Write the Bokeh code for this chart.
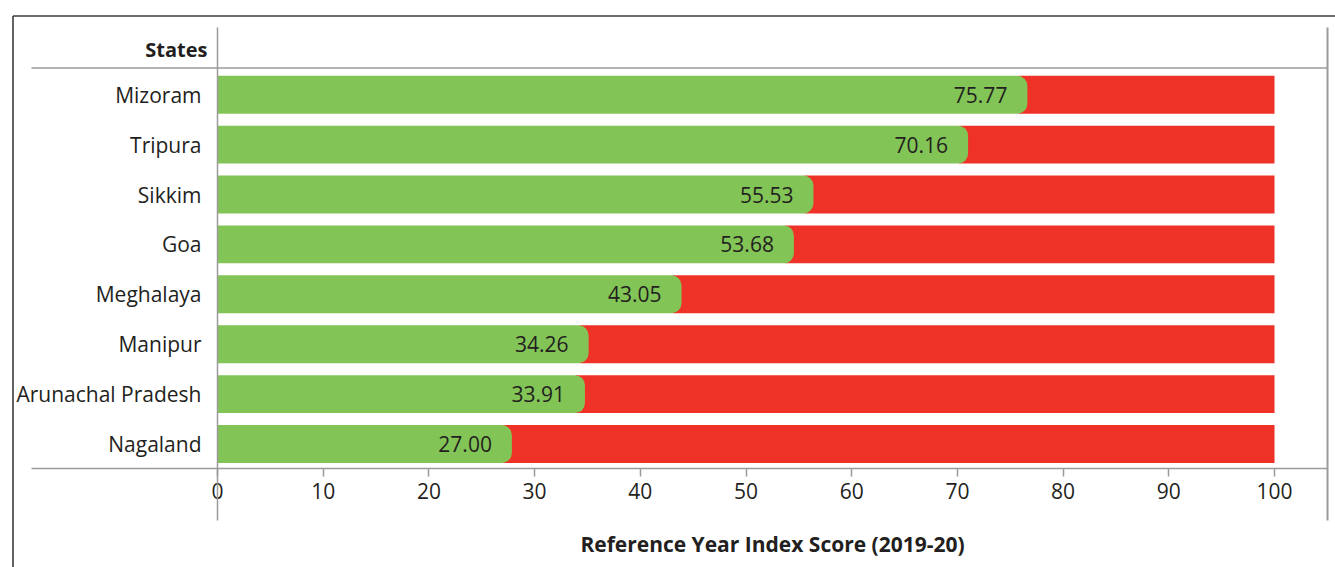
from bokeh.plotting import figure
from bokeh.models import ColumnDataSource, LinearAxis, FixedTicker, Range1d
from bokeh.core.properties import value
from bokeh.embed import file_html
from bokeh.resources import INLINE

# ---- data ----
states = ["Mizoram", "Tripura", "Sikkim", "Goa", "Meghalaya", "Manipur",
          "Arunachal Pradesh", "Nagaland"]
scores = [75.77, 70.16, 55.53, 53.68, 43.05, 34.26, 33.91, 27.00]
max_score = 100
x_ticks = [0, 10, 20, 30, 40, 50, 60, 70, 80, 90, 100]
y_title = "States"
x_title = "Reference Year Index Score (2019-20)"

# ---- layout constants (page pixels) ----
ORIGIN = 0                          # page offset of the canvas
W, H = 1335, 567
X0_PAGE, PX_X = 217.0, 10.57       # page x of value 0, px per unit
Y0_PAGE, PX_Y = 443.5, 49.9        # page y of bottom row, px per row


def xd(px):
    return (px - X0_PAGE) / PX_X


def yd(py):
    return (Y0_PAGE - py) / PX_Y


GREEN = "#82C456"
RED = "#EE3228"
TEXT = "#231f20"
GRAY = "#9b9b9b"
DARK = "#3c3c3c"
FONT = "Open Sans"

n = len(states)
rows = list(range(n - 1, -1, -1))
cap = 9.0 / PX_X
src = ColumnDataSource(dict(
    state=states,
    row=rows,
    score=scores,
    green_end=[s + cap for s in scores],
    full=[max_score] * n,
    label=[f"{s:.2f}" for s in scores],
))

p = figure(width=W, height=H, output_backend="svg", toolbar_location=None,
           x_axis_location=None, y_axis_location=None,
           x_range=Range1d(xd(ORIGIN), xd(ORIGIN + W)),
           y_range=Range1d(yd(ORIGIN + H), yd(ORIGIN)),
           min_border=0, outline_line_color=None, background_fill_color="white")
p.grid.visible = False

# bars
p.hbar(y="row", left="score", right="full", height=0.76, source=src,
       fill_color=RED, line_color=None)
p.hbar(y="row", left=0, right="green_end", height=0.76, source=src,
       fill_color=GREEN, line_color=None, border_radius=(0, 10, 10, 0))

# value labels
p.text(x="score", y="row", text="label", source=src, x_offset=-11,
       text_align="right", text_baseline="middle", text_color=TEXT,
       text_font=value(FONT), text_font_size="21px")

# x axis
xax = LinearAxis(fixed_location=-0.5, bounds=(xd(31), xd(1327)),
                 ticker=FixedTicker(ticks=x_ticks, minor_ticks=[]))
xax.axis_line_color = GRAY
xax.axis_line_width = 1.5
xax.major_tick_line_color = GRAY
xax.major_tick_line_width = 1.5
xax.major_tick_out = 8
xax.major_tick_in = 0
xax.minor_tick_line_color = None
xax.major_label_standoff = 6
xax.major_label_text_font = FONT
xax.major_label_text_font_size = "21px"
xax.major_label_text_color = TEXT
p.add_layout(xax, "below")

# y axis
yax = LinearAxis(fixed_location=0, bounds=(yd(520), yd(27)),
                 ticker=FixedTicker(ticks=rows, minor_ticks=[]))
yax.major_label_overrides = {r: s for r, s in zip(rows, states)}
yax.axis_line_color = GRAY
yax.axis_line_width = 1.5
yax.major_tick_line_color = None
yax.minor_tick_line_color = None
yax.major_label_standoff = 10
yax.major_label_text_font = FONT
yax.major_label_text_font_size = "21px"
yax.major_label_text_color = TEXT
p.add_layout(yax, "left")

# decorative frame lines
lines = ColumnDataSource(dict(
    x0=[xd(12.5), xd(12.5), xd(31), xd(1327)],
    y0=[yd(15.5), yd(15.5), yd(67.5), yd(27)],
    x1=[xd(12.5), xd(1335), xd(1327), xd(1327)],
    y1=[yd(567), yd(15.5), yd(67.5), yd(520)],
    color=[DARK, DARK, GRAY, GRAY],
    w=[1.6, 1.6, 1.5, 2.0],
))
p.segment(x0="x0", y0="y0", x1="x1", y1="y1", line_color="color",
          line_width="w", source=lines)

# header and axis title
p.text(x=[0], y=[yd(48.5)], text=[y_title], x_offset=-10, text_align="right",
       text_baseline="middle", text_color=TEXT, text_font=value(FONT),
       text_font_size="20px", text_font_style="bold")
p.text(x=[xd(772)], y=[yd(543)], text=[x_title], text_align="center",
       text_baseline="middle", text_color=TEXT, text_font=value(FONT),
       text_font_size="21px", text_font_style="bold")

open("out.html", "w").write(file_html(p, INLINE))
